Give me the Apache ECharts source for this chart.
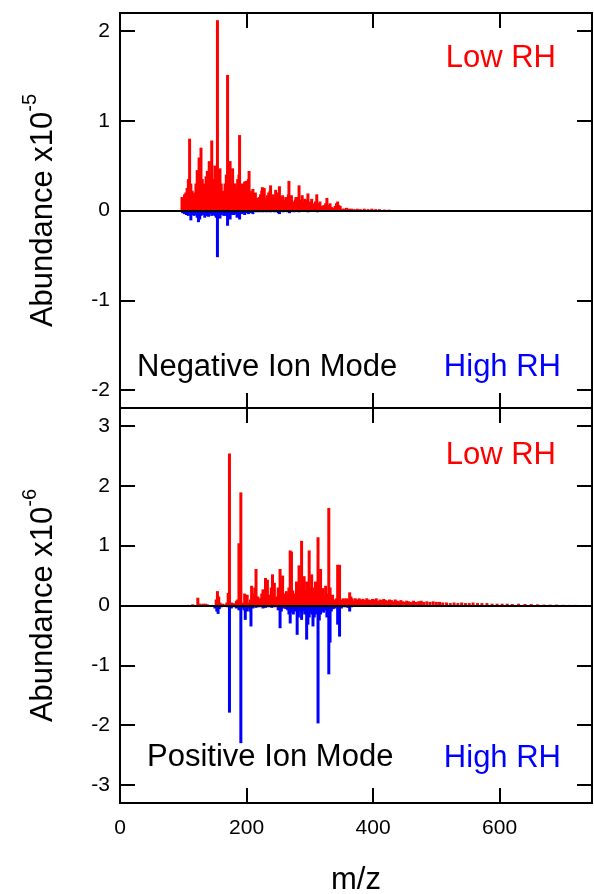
<!DOCTYPE html>
<html>
<head>
<meta charset="utf-8">
<script src="https://cdn.jsdelivr.net/npm/echarts@6/dist/echarts.min.js"></script>
<style>
	html, body { margin: 0; padding: 0; background: #fff; }
	#chart { width: 594px; height: 894px; }
</style>
</head>
<body>
<div id="chart"></div>
<script>
// negative ion mode, abundance x1e-5, [m/z, value]
var negLowRH = [[98,0.15],[100,0.12],[102,0.18],[104,0.2],[106,0.25],[108,0.35],[110,0.8],[112,0.3],[114,0.22],[116,0.17],[118,0.2],[120,0.3],[122,0.45],[124,0.4],[125,0.59],[127,0.3],[128,0.7],[130,0.35],[132,0.3],[134,0.25],[136,0.38],[138,0.44],[140,0.32],[141,0.55],[143,0.4],[145,0.78],[147,0.35],[149,0.3],[150,0.5],[152,0.35],[154,2.12],[156,0.45],[158,0.47],[160,0.3],[162,0.22],[164,0.2],[166,0.3],[168,0.4],[170,1.51],[172,0.35],[174,0.55],[176,0.3],[178,0.47],[180,0.3],[182,0.3],[184,0.25],[186,0.35],[188,0.4],[189,0.84],[191,0.3],[193,0.26],[195,0.3],[197,0.32],[199,0.33],[201,0.25],[203,0.35],[204,0.44],[206,0.22],[208,0.2],[210,0.24],[212,0.16],[214,0.2],[216,0.14],[218,0.12],[220,0.15],[222,0.18],[224,0.22],[225,0.26],[227,0.2],[228,0.25],[230,0.12],[232,0.14],[233,0.17],[235,0.2],[237,0.22],[238,0.28],[240,0.12],[242,0.18],[244,0.14],[246,0.23],[248,0.18],[250,0.2],[252,0.27],[254,0.15],[256,0.12],[257,0.17],[259,0.12],[260,0.1],[262,0.15],[264,0.12],[266,0.18],[267,0.33],[269,0.15],[271,0.17],[273,0.1],[275,0.08],[277,0.12],[278,0.15],[280,0.12],[282,0.15],[283,0.28],[285,0.12],[287,0.1],[288,0.17],[290,0.1],[292,0.13],[294,0.08],[296,0.12],[297,0.19],[299,0.1],[301,0.09],[303,0.13],[305,0.06],[307,0.08],[309,0.1],[311,0.18],[313,0.08],[315,0.06],[316,0.1],[318,0.05],[320,0.04],[322,0.06],[325,0.08],[327,0.14],[329,0.06],[332,0.08],[334,0.04],[337,0.03],[340,0.05],[342,0.08],[344,0.1],[346,0.06],[348,0.05],[352,0.02],[355,0.02],[358,0.03],[362,0.02],[366,0.02],[370,0.015],[375,0.02],[380,0.015],[386,0.02],[392,0.015],[398,0.02],[404,0.015],[410,0.015],[418,0.01],[425,0.01]];
var negHighRH = [[99,-0.03],[102,-0.04],[105,-0.05],[108,-0.06],[112,-0.11],[114,-0.05],[117,-0.06],[120,-0.05],[122,-0.08],[124,-0.13],[126,-0.1],[128,-0.06],[131,-0.05],[134,-0.08],[136,-0.06],[138,-0.05],[140,-0.07],[142,-0.04],[145,-0.06],[148,-0.05],[150,-0.06],[152,-0.08],[154,-0.52],[156,-0.08],[158,-0.09],[160,-0.05],[162,-0.04],[164,-0.06],[166,-0.04],[168,-0.06],[170,-0.17],[172,-0.06],[174,-0.1],[176,-0.05],[178,-0.04],[180,-0.05],[183,-0.04],[185,-0.08],[187,-0.05],[189,-0.1],[192,-0.04],[195,-0.03],[197,-0.05],[200,-0.03],[203,-0.04],[206,-0.03],[210,-0.04],[215,-0.02],[220,-0.02],[226,-0.02],[232,-0.02],[238,-0.02],[244,-0.02],[250,-0.03],[252,-0.04],[258,-0.02],[265,-0.02],[268,-0.03],[275,-0.02],[283,-0.02],[290,-0.015],[297,-0.02],[305,-0.015],[312,-0.02],[320,-0.01],[330,-0.01],[345,-0.01],[360,-0.01],[380,-0.01],[400,-0.01],[420,-0.01],[440,-0.01],[460,-0.01],[480,-0.01],[500,-0.01]];

// positive ion mode, abundance x1e-6
var posLowRH = [[108,0.01],[115,0.02],[123,0.13],[126,0.03],[131,0.03],[135,0.03],[138,0.02],[145,0.01],[152,0.1],[154,0.24],[156,0.15],[158,0.05],[162,0.03],[166,0.02],[169,0.05],[171,0.21],[173,2.54],[176,0.05],[179,0.04],[182,0.03],[184,0.08],[186,0.1],[188,1.04],[191,1.89],[194,0.05],[197,0.2],[199,0.15],[201,0.18],[204,0.05],[206,0.1],[208,0.33],[211,0.2],[213,0.3],[215,0.61],[218,0.15],[220,0.1],[222,0.12],[224,0.2],[226,0.27],[228,0.2],[230,0.46],[233,0.43],[235,0.18],[237,0.15],[239,0.3],[241,0.52],[244,0.38],[246,0.15],[248,0.12],[250,0.3],[253,0.61],[255,0.35],[257,0.5],[259,0.2],[261,0.15],[263,0.24],[265,0.15],[267,0.3],[269,0.92],[271,0.9],[273,0.25],[275,0.2],[277,0.15],[279,0.4],[281,0.25],[283,0.67],[285,0.3],[287,1.08],[289,0.35],[291,0.49],[293,0.25],[295,0.4],[297,0.3],[299,0.92],[301,0.3],[303,0.52],[305,0.2],[307,0.3],[309,0.4],[311,0.25],[313,1.14],[315,0.3],[317,0.61],[319,0.2],[321,0.29],[323,0.15],[325,0.33],[327,0.2],[330,1.63],[332,0.3],[334,0.15],[336,0.18],[338,0.1],[340,0.08],[342,0.12],[344,0.68],[347,0.68],[349,0.1],[351,0.08],[353,0.12],[356,0.1],[358,0.12],[360,0.1],[363,0.22],[365,0.15],[367,0.12],[370,0.08],[372,0.12],[375,0.1],[378,0.12],[381,0.1],[384,0.11],[387,0.09],[390,0.12],[393,0.1],[396,0.09],[399,0.11],[402,0.1],[405,0.12],[408,0.08],[411,0.1],[414,0.09],[417,0.11],[420,0.09],[423,0.08],[426,0.1],[429,0.09],[432,0.07],[435,0.1],[438,0.08],[441,0.07],[444,0.09],[447,0.07],[450,0.06],[453,0.08],[456,0.07],[460,0.06],[464,0.08],[468,0.06],[472,0.07],[476,0.08],[480,0.06],[485,0.07],[490,0.06],[495,0.07],[500,0.06],[505,0.06],[510,0.05],[516,0.05],[522,0.04],[528,0.05],[534,0.04],[540,0.05],[546,0.04],[552,0.04],[558,0.05],[565,0.04],[572,0.04],[580,0.04],[588,0.03],[596,0.03],[604,0.03],[612,0.03],[620,0.025],[630,0.03],[640,0.025],[650,0.025],[660,0.02],[670,0.015],[680,0.015],[690,0.015],[700,0.012],[710,0.01],[720,0.01]];
var posHighRH = [[108,-0.01],[123,-0.02],[150,-0.05],[153,-0.1],[155,-0.14],[157,-0.06],[160,-0.03],[165,-0.02],[170,-0.03],[173,-1.79],[176,-0.05],[180,-0.03],[184,-0.05],[188,-0.08],[191,-2.3],[194,-0.05],[196,-0.08],[198,-0.24],[200,-0.1],[203,-0.05],[205,-0.1],[207,-0.35],[210,-0.05],[215,-0.04],[220,-0.03],[226,-0.05],[230,-0.04],[235,-0.03],[240,-0.04],[245,-0.03],[250,-0.08],[253,-0.38],[255,-0.1],[258,-0.05],[262,-0.06],[265,-0.08],[267,-0.15],[269,-0.3],[271,-0.12],[274,-0.15],[277,-0.1],[280,-0.49],[282,-0.2],[284,-0.1],[287,-0.24],[290,-0.1],[292,-0.15],[295,-0.57],[297,-0.32],[299,-0.2],[301,-0.1],[303,-0.15],[305,-0.35],[307,-0.2],[310,-0.15],[313,-1.97],[315,-0.25],[317,-0.15],[320,-0.1],[322,-0.12],[325,-0.08],[327,-0.2],[330,-1.15],[332,-0.62],[334,-0.1],[337,-0.06],[340,-0.05],[344,-0.32],[347,-0.52],[350,-0.05],[355,-0.03],[360,-0.04],[363,-0.1],[366,-0.03],[372,-0.02],[380,-0.02],[390,-0.015],[400,-0.015],[405,-0.02],[412,-0.02],[420,-0.02],[428,-0.02],[440,-0.01],[455,-0.01],[470,-0.01],[490,-0.01],[520,-0.01],[560,-0.01],[600,-0.01],[640,-0.01],[680,-0.01],[710,-0.01]];

var mzMax = 746;
var negRange = 2.2;
var posRange = 3.3;

var FONT = '"Liberation Sans", Arial, sans-serif';
var RED = '#ff0000';
var BLUE = '#0000ff';

function xAx(grid, pos, withLabels, name) {
	return {
		type: 'value', gridIndex: grid, position: pos,
		min: 0, max: mzMax, interval: 200,
		splitLine: { show: false },
		axisLine: { show: true, onZero: false, lineStyle: { color: '#000', width: 2 } },
		axisTick: { show: true, inside: true, length: 15, lineStyle: { color: '#000', width: 2 } },
		axisLabel: { show: withLabels, showMaxLabel: false, margin: 15, fontSize: 21, color: '#000', fontFamily: FONT },
		name: name || '', nameLocation: 'middle', nameGap: 62,
		nameTextStyle: { fontSize: 31, color: '#000', fontFamily: FONT }
	};
}

function yAx(grid, pos, range, withLabels, exp) {
	return {
		type: 'value', gridIndex: grid, position: pos,
		min: -range, max: range,
		splitLine: { show: false },
		axisLine: { show: true, onZero: false, lineStyle: { color: '#000', width: 2 } },
		axisTick: { show: true, inside: true, length: 15, lineStyle: { color: '#000', width: 2 } },
		axisLabel: { show: withLabels, showMinLabel: false, showMaxLabel: false, margin: 10, fontSize: 21, color: '#000', fontFamily: FONT },
		name: exp ? '{main|Abundance x10}{sup|' + exp + '}' : '',
		nameLocation: 'middle', nameRotate: 90, nameGap: 54,
		nameTextStyle: {
			color: '#000', fontFamily: FONT,
			rich: {
				main: { fontSize: 31, color: '#000', fontFamily: FONT },
				sup: { fontSize: 20, color: '#000', fontFamily: FONT, padding: [0, 0, 26, 0] }
			}
		}
	};
}

function bars(name, data, color, xi, yi, zero) {
	var s = {
		name: name, type: 'bar', data: data,
		xAxisIndex: xi, yAxisIndex: yi,
		barWidth: 3, barGap: '-100%',
		itemStyle: { color: color },
		silent: true, animation: false
	};
	if (zero) {
		s.markLine = {
			silent: true, symbol: ['none', 'none'], label: { show: false },
			lineStyle: { color: '#000', width: 2, type: 'solid' },
			data: [{ yAxis: 0 }]
		};
	}
	return s;
}

function note(text, x, y, color, align) {
	return {
		type: 'text', x: x, y: y, silent: true,
		style: { text: text, fill: color, fontSize: 31, fontFamily: FONT, align: align, verticalAlign: 'middle' }
	};
}

var chart = echarts.init(document.getElementById('chart'));
var option = {
	animation: false,
	backgroundColor: '#fff',
	grid: [
		{ left: 120, right: 2, top: 13, height: 395, outerBoundsMode: 'none' },
		{ left: 120, right: 2, top: 408, height: 395, outerBoundsMode: 'none' }
	],
	xAxis: [
		xAx(0, 'bottom', false),
		xAx(0, 'top', false),
		xAx(1, 'bottom', true, 'm/z'),
		xAx(1, 'top', false)
	],
	yAxis: [
		yAx(0, 'left', negRange, true, '-5'),
		yAx(0, 'right', negRange, false),
		yAx(1, 'left', posRange, true, '-6'),
		yAx(1, 'right', posRange, false)
	],
	series: [
		bars('Neg High RH', negHighRH, BLUE, 0, 0, false),
		bars('Neg Low RH', negLowRH, RED, 0, 0, true),
		bars('Pos High RH', posHighRH, BLUE, 2, 2, false),
		bars('Pos Low RH', posLowRH, RED, 2, 2, true)
	],
	graphic: [
		note('Low RH', 556, 58, RED, 'right'),
		note('Negative Ion Mode', 137, 367, '#000', 'left'),
		note('High RH', 561, 367, BLUE, 'right'),
		note('Low RH', 556, 455, RED, 'right'),
		note('Positive Ion Mode', 147, 757, '#000', 'left'),
		note('High RH', 561, 758, BLUE, 'right')
	]
};
chart.setOption(option);
</script>
</body>
</html>
